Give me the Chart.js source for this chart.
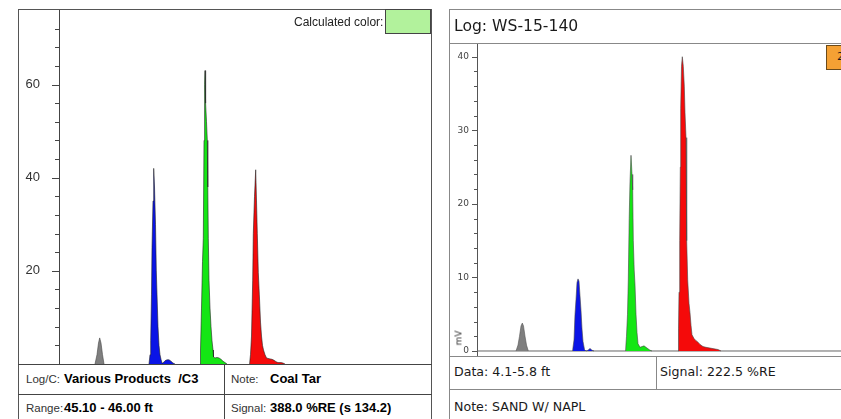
<!DOCTYPE html>
<html>
<head>
<meta charset="utf-8">
<script src="https://cdn.jsdelivr.net/npm/chart.js@4.4.1/dist/chart.umd.min.js"></script>
<style>
  html, body { margin:0; padding:0; background:#fff; }
  body { width:841px; height:419px; overflow:hidden; position:relative; }
  .abs { position:absolute; white-space:pre; }
  .ls { font-family:"Liberation Sans", Arial, sans-serif; color:#222; }
  .ds { font-family:"DejaVu Sans", Verdana, sans-serif; color:#1a1a1a; }
  .hl { position:absolute; height:1px; }
  .vl { position:absolute; width:1px; }
</style>
</head>
<body>
<script>
// ---------------- DATA ----------------
// Left panel: signal (%) vs. time (arbitrary ns units along the waveform)
const leftGrayT  = [36, 38, 39.5, 40.7, 42, 43.5, 45];
const leftGrayV  = [0, 2, 4.5, 5.6, 4.5, 2, 0];
const leftBlueT  = [90, 91, 91.7, 92.5, 93, 94, 94.7, 95.5, 96.5, 97.3, 98, 99, 100, 101, 102, 103, 104, 106, 108, 110, 112, 114, 116];
const leftBlueV  = [0, 2, 5, 15, 25, 35, 42, 38, 30, 20, 15, 8, 4, 2, 1, 0.2, 0.2, 0.7, 0.9, 0.9, 0.6, 0.2, 0];
const leftGreenT = [141, 141.5, 142.5, 143.5, 144.3, 145, 145.6, 146, 146.6, 147.5, 148.3, 148.8, 149.3, 150, 151, 152, 153, 154, 154.5, 156, 158, 160, 162, 164, 166, 168];
const leftGreenV = [0, 3, 12, 22, 27, 48, 60, 63, 56, 52, 48, 38, 27, 18, 12, 8, 5, 3, 1.5, 1.3, 1.4, 1.3, 1.0, 0.6, 0.3, 0];
const leftRedT   = [190.5, 191.5, 192.5, 193.7, 194.3, 195.5, 196.7, 197.5, 198.3, 199.3, 200.3, 201.5, 202.5, 203.5, 204.5, 206, 207.5, 209, 211, 213, 215, 217, 219, 222, 224, 226];
const leftRedV   = [0, 2, 6, 18, 28, 36, 41.7, 35, 28, 19.6, 15, 9, 6, 4, 3, 2, 1.3, 1.2, 1.1, 1.0, 0.8, 0.5, 0.3, 0.3, 0.2, 0];
const leftTickValues = [0, 4, 8, 12, 16, 20, 24, 28, 32, 36, 40, 44, 48, 52, 56, 60, 64, 68, 72];
const leftTickLabels = ["", "", "", "", "", "20", "", "", "", "", "40", "", "", "", "", "60", "", "", ""];

// Right panel: mV vs. time
const rightGrayT  = [39, 41, 42.5, 44, 45.3, 46.5, 48, 49.5, 51.3];
const rightGrayV  = [0, 0.8, 2, 3.4, 3.8, 3.4, 2, 0.8, 0];
const rightBlueT  = [95.5, 97, 98, 99, 100, 101, 102, 103, 104, 105, 106, 107.5, 109, 111, 113, 115, 117];
const rightBlueV  = [0, 1.5, 5, 7, 9.3, 9.8, 9.5, 7.5, 5.5, 3, 1.3, 0.2, 0, 0.1, 0.35, 0.1, 0];
const rightGreenT = [148.5, 149.5, 150.5, 151.3, 152.2, 153, 154, 155, 155.7, 156.3, 157.2, 158, 159, 160, 161, 163, 165, 167, 169, 171, 173, 175];
const rightGreenV = [0, 2, 5, 9.65, 18, 23, 26.6, 24, 21.9, 15, 11, 9, 5, 2.5, 1, 0.5, 0.6, 0.7, 0.5, 0.3, 0.1, 0];
const rightRedT   = [201, 201.5, 202, 202.7, 203.3, 203.7, 204.5, 205.3, 206.3, 207.3, 208, 209, 209.5, 209.9, 210.7, 212, 213, 214, 215, 217, 219, 221, 223, 226, 229, 233, 237, 241, 244];
const rightRedV   = [0, 3, 8, 15, 25, 33, 38.7, 40, 38.7, 36, 32.4, 29, 22, 15, 9.65, 6.5, 5.2, 3.5, 2.2, 1.7, 1.4, 1.2, 0.9, 0.6, 0.5, 0.4, 0.3, 0.2, 0];
const rightTickValues = [0, 2, 4, 6, 8, 10, 12, 14, 16, 18, 20, 22, 24, 26, 28, 30, 32, 34, 36, 38, 40];
const rightTickLabels = ["0", "", "", "", "", "10", "", "", "", "", "20", "", "", "", "", "30", "", "", "", "", "40"];

const peakColors = { gray: "#7f7f7f", blue: "#0a14e6", green: "#14e614", red: "#f50a0a" };
</script>

<!-- LEFT PANEL frame -->
<div class="abs" style="left:18px;top:9px;width:414px;height:430px;border:1px solid #555;box-sizing:border-box;"></div>
<div class="abs" style="left:19px;top:10px;width:412px;height:354px;"><canvas id="cL" width="412" height="354"></canvas></div>
<div class="abs ls" style="left:294px;top:14px;font-size:12px;line-height:16px;">Calculated color:</div>
<div class="abs" style="left:385px;top:9px;width:46px;height:25px;background:#b2f29c;border:1px solid #444;box-sizing:border-box;"></div>
<div class="hl" style="left:18px;top:364px;width:414px;background:#444;"></div>
<div class="hl" style="left:18px;top:394px;width:414px;background:#444;"></div>
<div class="vl" style="left:224px;top:364px;height:60px;background:#444;"></div>
<div class="abs ls" style="left:26px;top:371px;font-size:11.5px;line-height:16px;color:#333;">Log/C:</div>
<div class="abs ls" style="left:64px;top:371px;font-size:13px;line-height:16px;font-weight:bold;color:#000;">Various Products  /C3</div>
<div class="abs ls" style="left:231px;top:371px;font-size:11.5px;line-height:16px;color:#333;">Note:</div>
<div class="abs ls" style="left:270px;top:371px;font-size:13px;line-height:16px;font-weight:bold;color:#000;">Coal Tar</div>
<div class="abs ls" style="left:26px;top:400px;font-size:11.5px;line-height:16px;color:#333;">Range:</div>
<div class="abs ls" style="left:64px;top:400px;font-size:13px;line-height:16px;font-weight:bold;color:#000;">45.10 - 46.00 ft</div>
<div class="abs ls" style="left:231px;top:400px;font-size:11.5px;line-height:16px;color:#333;">Signal:</div>
<div class="abs ls" style="left:270px;top:400px;font-size:13px;line-height:16px;font-weight:bold;color:#000;">388.0 %RE (s 134.2)</div>

<!-- RIGHT PANEL frame -->
<div class="abs" style="left:449px;top:9px;width:500px;height:430px;border:1px solid #888;box-sizing:border-box;"></div>
<div class="hl" style="left:449px;top:43px;width:500px;background:#888;"></div>
<div class="abs ds" style="left:454px;top:16px;font-size:15.6px;line-height:20px;">Log: WS-15-140</div>
<div class="abs" style="left:450px;top:44px;width:450px;height:312px;"><canvas id="cR" width="450" height="312"></canvas></div>
<div class="abs" style="left:826px;top:45px;width:40px;height:25px;background:#f5a134;border:1px solid #6b4a1a;box-sizing:border-box;"></div>
<div class="abs ds" style="left:837px;top:50px;font-size:11px;line-height:14px;">2</div>
<div class="abs ds" style="left:451px;top:332px;font-size:9px;line-height:12px;color:#333;transform:rotate(-90deg);transform-origin:center;">mV</div>
<div class="hl" style="left:449px;top:356px;width:500px;background:#888;"></div>
<div class="hl" style="left:449px;top:389px;width:500px;background:#888;"></div>
<div class="vl" style="left:656px;top:356px;height:33px;background:#888;"></div>
<div class="abs ds" style="left:454px;top:363px;font-size:12.6px;line-height:18px;">Data: 4.1-5.8 ft</div>
<div class="abs ds" style="left:660px;top:363px;font-size:12.6px;line-height:18px;">Signal: 222.5 %RE</div>
<div class="abs ds" style="left:454px;top:398px;font-size:12.6px;line-height:18px;">Note: SAND W/ NAPL</div>

<script>
const tickMarks = {
  id: 'tickMarks',
  afterDraw(chart, args, o) {
    const s = chart.scales.y, ctx = chart.ctx;
    ctx.save();
    ctx.strokeStyle = o.color; ctx.lineWidth = 1;
    s.ticks.forEach(t => {
      const y = Math.round(s.getPixelForValue(t.value)) + 0.5;
      const len = (t.value % o.major === 0) ? o.majorLen : o.minorLen;
      ctx.beginPath(); ctx.moveTo(s.right - len, y); ctx.lineTo(s.right, y); ctx.stroke();
    });
    ctx.restore();
  }
};

function pts(T, V) { return T.map((t, i) => ({ x: t, y: V[i] })); }
function peak(T, V, color, border) {
  return { data: pts(T, V), borderColor: border, borderWidth: 0.6, backgroundColor: color,
           fill: 'origin', pointRadius: 0, tension: 0, borderJoinStyle: 'round' };
}

function build(id, o) {
  return new Chart(document.getElementById(id), {
    type: 'line',
    data: { datasets: o.datasets },
    plugins: [tickMarks],
    options: {
      responsive: false, animation: false, devicePixelRatio: 1,
      layout: { padding: 0 },
      plugins: { legend: { display: false }, tooltip: { enabled: false },
                 tickMarks: { color: o.axisColor, major: o.major, majorLen: o.majorLen, minorLen: o.minorLen } },
      scales: {
        x: { type: 'linear', display: false, min: 0, max: o.xMax },
        y: {
          type: 'linear', position: 'left', min: o.yMin, max: o.yMax,
          afterBuildTicks: s => { s.ticks = o.tickValues.map(v => ({ value: v })); },
          afterFit: s => { s.width = o.axisWidth; s.paddingTop = 0; s.paddingBottom = 0; },
          grid: { drawOnChartArea: false, drawTicks: false },
          border: { display: true, color: o.axisColor, width: 1 },
          ticks: { autoSkip: false, padding: o.labelPad, color: o.labelColor, font: o.font,
                   callback: (v, i) => o.tickLabels[o.tickValues.indexOf(v)] || '' }
        }
      }
    }
  });
}

build('cL', {
  xMax: 372, yMin: 0, yMax: 76, axisWidth: 40, labelPad: 19,
  axisColor: '#444', labelColor: '#333', major: 20, majorLen: 7, minorLen: 4,
  font: { family: '"Liberation Sans", Arial, sans-serif', size: 13 },
  tickValues: leftTickValues, tickLabels: leftTickLabels,
  datasets: [
    peak(leftGrayT, leftGrayV, peakColors.gray, '#444'),
    peak(leftBlueT, leftBlueV, peakColors.blue, '#222'),
    peak(leftGreenT, leftGreenV, peakColors.green, '#222'),
    peak(leftRedT, leftRedV, peakColors.red, '#222')
  ]
});

build('cR', {
  xMax: 423, yMin: -0.68, yMax: 41.73, axisWidth: 27, labelPad: 8,
  axisColor: '#555', labelColor: '#444', major: 10, majorLen: 5, minorLen: 3,
  font: { family: '"DejaVu Sans", Verdana, sans-serif', size: 9 },
  tickValues: rightTickValues, tickLabels: rightTickLabels,
  datasets: [
    peak(rightGrayT, rightGrayV, peakColors.gray, '#555'),
    peak(rightBlueT, rightBlueV, peakColors.blue, '#444'),
    peak(rightGreenT, rightGreenV, peakColors.green, '#444'),
    peak(rightRedT, rightRedV, peakColors.red, '#444'),
    { data: pts([0, 423], [0, 0]), borderColor: '#666', borderWidth: 1, pointRadius: 0, fill: false }
  ]
});
</script>
</body>
</html>
